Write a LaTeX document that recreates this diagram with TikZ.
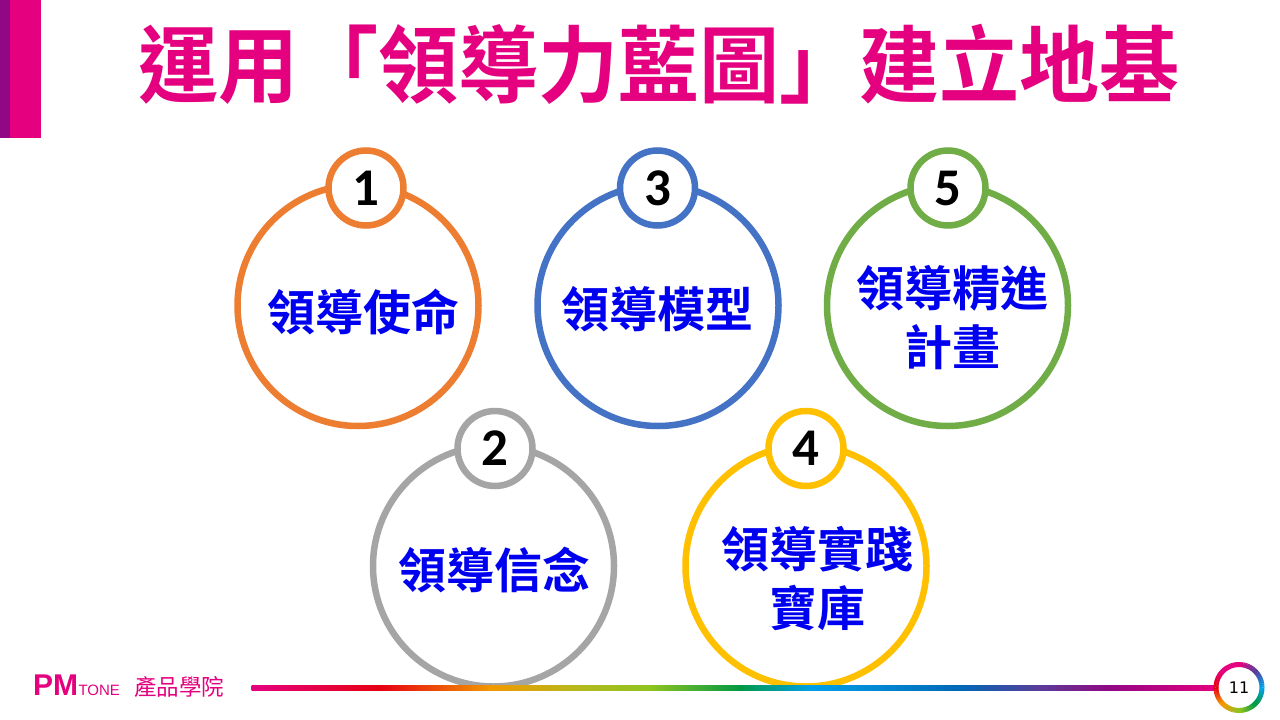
\documentclass[tikz,border=0pt]{standalone}
\usepackage{fontspec}
\newfontfamily\cjkfont{Noto Sans CJK TC}[BoldFont={Noto Sans CJK TC Bold}]
\newfontfamily\numfont{Carlito}
\newfontfamily\pagefont{DejaVu Sans}
\newfontfamily\logofont{Liberation Sans}
\definecolor{pmpink}{HTML}{E4007F}
\definecolor{pmpurple}{HTML}{920783}
\definecolor{ringorange}{HTML}{ED7D31}
\definecolor{ringblue}{HTML}{4472C4}
\definecolor{ringgreen}{HTML}{70AD47}
\definecolor{ringgray}{HTML}{A5A5A5}
\definecolor{ringgold}{HTML}{FFC000}
\definecolor{itemblue}{HTML}{0000F0}
% rainbow stops
\definecolor{rbA}{HTML}{E4007F}
\definecolor{rbB}{HTML}{E60012}
\definecolor{rbC}{HTML}{F39800}
\definecolor{rbD}{HTML}{B3BA1E}
\definecolor{rbE}{HTML}{8FC31F}
\definecolor{rbF}{HTML}{009944}
\definecolor{rbG}{HTML}{00A0E9}
\definecolor{rbH}{HTML}{0068B7}
\definecolor{rbI}{HTML}{5A3C98}
\definecolor{rbJ}{HTML}{920783}
\begin{document}
\begin{tikzpicture}  % ------ Leadership blueprint --------
      [x=1pt,y=-1pt,
       bigring/.style={circle, draw=#1, line width=6.5pt, minimum size=241pt, fill=white},
       numring/.style={circle, draw=#1, line width=6.5pt, minimum size=75pt, inner sep=0pt,
                       fill=white, font=\numfont\bfseries\fontsize{53}{53}\selectfont},
       itemtext/.style={text=itemblue, align=center, inner sep=0pt,
                        font=\cjkfont\bfseries\fontsize{48}{59}\selectfont}]

    \useasboundingbox (0,0) rectangle (1280,720);
    \fill[white] (0,0) rectangle (1280,720);

    \coordinate (C1) at (358,305.5);
    \coordinate (C3) at (658,305.5);
    \coordinate (C5) at (947.5,305.5);
    \coordinate (C2) at (493.5,566);
    \coordinate (C4) at (806,566);

    % side bar and title
    \fill[pmpurple] (0,0) rectangle (10,138);
    \fill[pmpink] (10,0) rectangle (41,138);
    \node[text=pmpink, inner sep=0pt, xscale=0.954, transform shape,
          font=\cjkfont\bfseries\fontsize{84}{84}\selectfont]
        (title) at (659,64) {運用「領導力藍圖」建立地基};

    % rings
    \node[bigring=ringorange] (big1) at (C1) {};
    \node[bigring=ringblue]   (big3) at (C3) {};
    \node[bigring=ringgreen]  (big5) at (C5) {};
    \node[bigring=ringgray]   (big2) at (C2) {};
    \node[bigring=ringgold]   (big4) at (C4) {};

    \node[numring=ringorange] (n1) at (366,188) {1};
    \node[numring=ringblue]   (n3) at (657.5,188) {3};
    \node[numring=ringgreen]  (n5) at (948,188) {5};
    \node[numring=ringgray]   (n2) at (495,448.5) {2};
    \node[numring=ringgold]   (n4) at (806,448.5) {4};

    \node[itemtext] (t1) at (363.5,312) {領導使命};
    \node[itemtext] (t3) at (657,309) {領導模型};
    \node[itemtext] (t5) at (952.5,317.5) {領導精進\\計畫};
    \node[itemtext] (t2) at (494.5,570) {領導信念};
    \node[itemtext] (t4) at (817,579) {領導實踐\\寶庫};

    % footer : logo, rainbow line, page number
    \node[anchor=base west, inner sep=0pt, text=pmpink, font=\logofont\bfseries\fontsize{30}{30}\selectfont]
        (pm) at (33,695) {PM};
    \node[anchor=base west, inner sep=0pt, text=pmpink, font=\logofont\fontsize{15}{15}\selectfont]
        (tone) at (pm.base east) {TONE};
    \node[anchor=west, inner sep=0pt, text=pmpink, font=\cjkfont\fontsize{22.5}{22.5}\selectfont]
        (school) at (134,687) {產品學院};

    \foreach \xa/\ca/\xb/\cb in {252/rbA/380/rbB, 380/rbB/490/rbC, 490/rbC/580/rbD,
        580/rbD/650/rbE, 650/rbE/740/rbF, 740/rbF/810/rbG, 810/rbG/960/rbH,
        960/rbH/1040/rbI, 1040/rbI/1110/rbJ, 1110/rbJ/1214/rbA}
      \shade[left color=\ca, right color=\cb] (\xa-0.3,685) rectangle (\xb+0.3,690);

    \node[circle, minimum size=41pt, inner sep=0pt, fill=white,
          font=\pagefont\fontsize{16}{16}\selectfont] (pn) at (1239,687.5) {11};
    \foreach \aa/\ca/\cb in {90/rbA/rbI, 45/rbI/rbG, 0/rbG/rbF, -45/rbF/rbE,
        -90/rbE/rbC, -135/rbC/rbB, -180/rbB/rbA, -225/rbA/rbA}
      \foreach \k in {0,...,8} {
        \pgfmathsetmacro\sa{\aa-5*\k}
        \pgfmathsetmacro\ea{\sa-5.6}
        \pgfmathtruncatemacro\pc{\k*12.5}
        \draw[line width=5pt, color=\cb!\pc!\ca]
          ([shift={(\sa:23pt)}]pn.center) arc[start angle=\sa, end angle=\ea, radius=23pt];
      }
\end{tikzpicture}
\end{document}
